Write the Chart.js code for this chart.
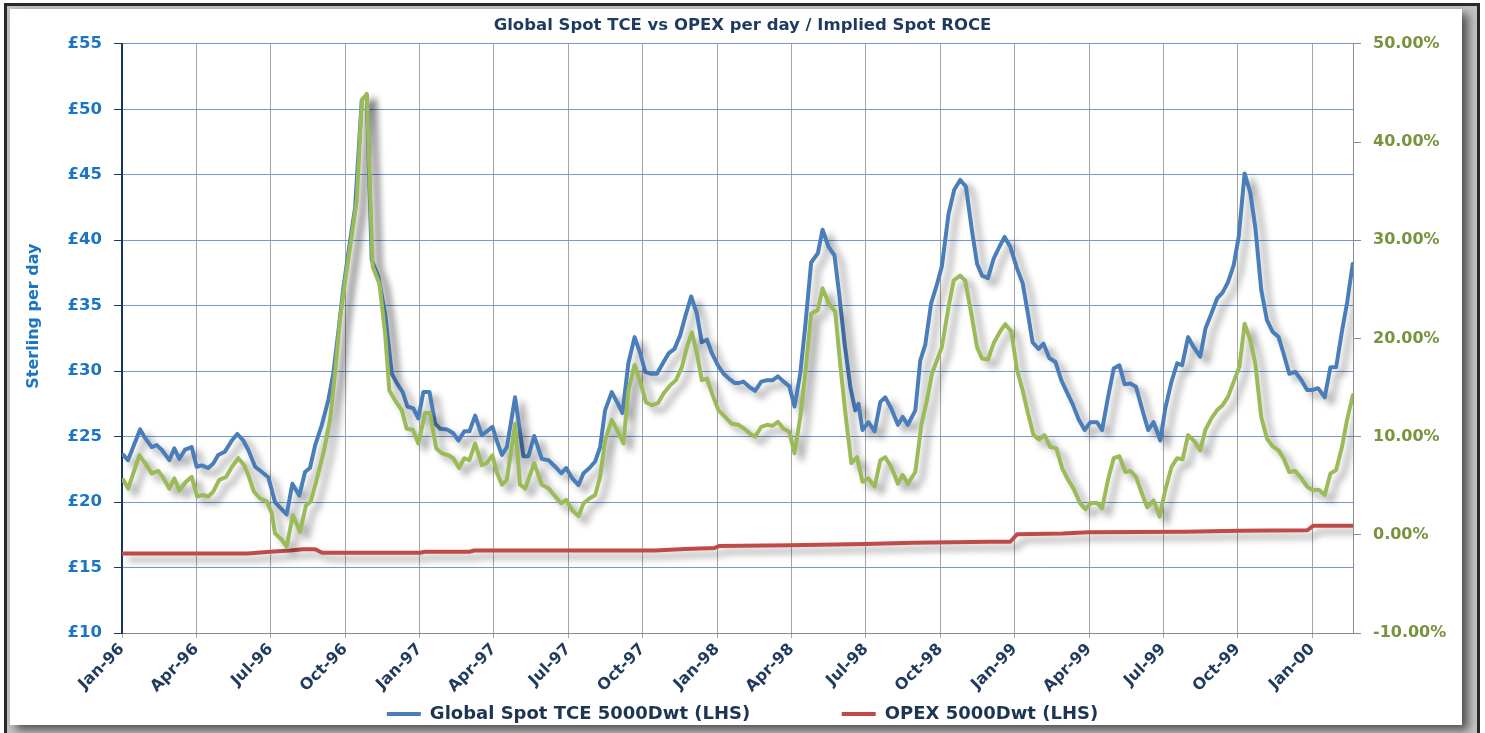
<!DOCTYPE html>
<html>
<head>
<meta charset="utf-8">
<title>Global Spot TCE vs OPEX per day / Implied Spot ROCE</title>
<script src="https://cdn.jsdelivr.net/npm/chart.js@4.4.1/dist/chart.umd.min.js"></script>
<style>
html, body { margin: 0; padding: 0; background: #fff; }
#wrap { position: relative; width: 1485px; height: 733px; overflow: hidden; }
#frame { position: absolute; left: 4px; top: 3px; width: 1476px; height: 745px; border: 3px solid #2a2a2a; box-sizing: border-box; background: #c4c4c4; }
#panel { position: absolute; left: 10px; top: 9px; width: 1452px; height: 716px; background: #fff; box-shadow: 6px 5px 9px rgba(0,0,0,0.6); }
#chart { position: absolute; left: 0; top: 0; }
</style>
</head>
<body>
<div id="wrap">
  <div id="frame"></div>
  <div id="panel"></div>
  <canvas id="chart" width="1485" height="733"></canvas>
</div>
<script>
const FONT = '"DejaVu Sans", Verdana, sans-serif';

// x = months since Jan-96
const quarterLabels = ['Jan-96','Apr-96','Jul-96','Oct-96','Jan-97','Apr-97','Jul-97','Oct-97',
    'Jan-98','Apr-98','Jul-98','Oct-98','Jan-99','Apr-99','Jul-99','Oct-99','Jan-00'];

// Global Spot TCE 5000Dwt, £ per day (LHS)
const tce = [
    [0.05,23.6],[0.24,23.2],[0.73,25.55],[0.93,24.9],[1.20,24.2],[1.40,24.35],[1.60,24.0],[1.91,23.2],
    [2.11,24.1],[2.31,23.3],[2.54,24.0],[2.81,24.2],[3.01,22.7],[3.22,22.8],[3.48,22.6],[3.68,22.95],
    [3.88,23.6],[4.15,23.85],[4.43,24.7],[4.65,25.2],[4.89,24.7],[5.09,24.0],[5.37,22.7],[5.64,22.3],
    [5.90,21.9],[6.17,20.0],[6.37,19.6],[6.64,19.05],[6.87,21.4],[7.15,20.5],[7.38,22.3],[7.58,22.6],
    [7.79,24.35],[8.06,25.9],[8.32,27.8],[8.52,29.8],[8.73,33.1],[8.93,36.4],[9.20,40.0],[9.40,42.5],
    [9.67,50.7],[9.87,51.1],[10.07,38.5],[10.34,37.2],[10.61,34.4],[10.88,29.8],[11.08,29.1],[11.32,28.4],
    [11.51,27.3],[11.75,27.15],[11.95,26.4],[12.15,28.4],[12.40,28.4],[12.63,26.0],[12.83,25.6],[13.10,25.55],
    [13.36,25.25],[13.57,24.7],[13.80,25.4],[14.01,25.4],[14.24,26.6],[14.51,25.1],[14.71,25.4],[14.94,25.75],
    [15.11,24.7],[15.32,23.6],[15.52,24.2],[15.85,28.0],[16.19,23.5],[16.39,23.5],[16.62,25.05],[16.93,23.3],
    [17.20,23.2],[17.47,22.7],[17.71,22.2],[17.91,22.6],[18.16,21.8],[18.41,21.3],[18.61,22.2],[18.85,22.6],
    [19.08,23.1],[19.28,24.2],[19.48,27.0],[19.75,28.4],[20.00,27.5],[20.18,26.8],[20.42,30.6],[20.67,32.6],
    [20.90,31.35],[21.10,29.95],[21.34,29.8],[21.57,29.8],[21.84,30.7],[22.04,31.35],[22.28,31.7],[22.51,32.75],
    [22.71,34.15],[22.95,35.7],[23.18,34.4],[23.38,32.2],[23.59,32.4],[23.79,31.35],[24.03,30.45],[24.26,29.8],
    [24.46,29.45],[24.70,29.1],[24.89,29.1],[25.06,29.2],[25.29,28.8],[25.53,28.5],[25.78,29.2],[26.01,29.3],
    [26.23,29.3],[26.45,29.6],[26.68,29.2],[26.91,28.85],[27.12,27.3],[27.35,29.8],[27.55,33.4],[27.79,38.3],
    [28.06,39.0],[28.25,40.8],[28.49,39.5],[28.73,38.85],[28.92,35.9],[29.14,32.1],[29.37,28.8],[29.57,27.0],
    [29.70,27.5],[29.86,25.5],[30.10,26.1],[30.35,25.4],[30.58,27.65],[30.78,28.0],[31.02,27.15],[31.29,25.9],
    [31.48,26.5],[31.69,25.9],[31.99,27.0],[32.19,30.8],[32.39,32.0],[32.63,35.2],[32.86,36.6],[33.06,38.0],
    [33.33,42.0],[33.56,43.85],[33.80,44.6],[34.03,44.1],[34.27,40.8],[34.48,38.2],[34.68,37.3],[34.92,37.1],
    [35.15,38.6],[35.38,39.5],[35.59,40.25],[35.82,39.5],[36.09,37.85],[36.32,36.7],[36.53,34.4],[36.72,32.2],
    [36.96,31.7],[37.16,32.1],[37.39,31.0],[37.64,30.7],[37.88,29.3],[38.15,28.2],[38.33,27.5],[38.58,26.3],
    [38.82,25.5],[39.05,26.1],[39.32,26.1],[39.52,25.5],[39.76,28.0],[39.99,30.2],[40.22,30.45],[40.43,29.0],
    [40.66,29.05],[40.89,28.8],[41.13,27.15],[41.38,25.5],[41.60,26.1],[41.87,24.7],[42.07,27.15],[42.32,29.2],
    [42.55,30.6],[42.75,30.45],[42.99,32.6],[43.21,31.85],[43.48,31.1],[43.69,33.25],[43.93,34.4],[44.16,35.55],
    [44.38,36.0],[44.60,36.8],[44.83,38.1],[45.03,40.25],[45.27,45.1],[45.50,43.6],[45.70,41.0],[45.94,36.2],
    [46.17,33.9],[46.40,33.0],[46.64,32.6],[46.84,31.35],[47.07,29.8],[47.31,29.95],[47.56,29.3],[47.79,28.55],
    [47.99,28.55],[48.23,28.7],[48.50,28.0],[48.73,30.3],[48.96,30.3],[49.20,33.1],[49.40,35.2],[49.63,38.2]
];

// OPEX 5000Dwt, £ per day (LHS)
const opex = [
    [0.04,16.08],[5.08,16.08],[5.97,16.2],[6.78,16.3],[7.30,16.4],[7.79,16.4],[8.07,16.13],[12.02,16.13],
    [12.22,16.2],[14.0,16.2],[14.2,16.3],[21.5,16.3],[22.7,16.42],[23.9,16.5],[24.1,16.65],[26.95,16.7],
    [29.97,16.8],[31.91,16.9],[35.01,16.97],[35.82,16.97],[36.10,17.55],[37.92,17.6],[38.97,17.7],[42.88,17.73],
    [45.02,17.8],[47.8,17.85],[48.04,18.2],[49.64,18.2]
];

// Implied Spot ROCE, % (RHS)
const roce = [
    [0.05,5.6],[0.25,4.7],[0.70,8.1],[0.93,7.3],[1.20,6.25],[1.46,6.5],[1.64,5.9],[1.91,4.7],
    [2.11,5.75],[2.31,4.5],[2.58,5.4],[2.81,5.9],[3.03,3.9],[3.26,4.05],[3.48,3.9],[3.68,4.4],
    [3.92,5.6],[4.20,5.9],[4.43,6.9],[4.69,7.8],[4.92,7.1],[5.09,6.1],[5.32,4.4],[5.57,3.7],
    [5.84,3.4],[6.04,2.2],[6.17,0.15],[6.44,-0.5],[6.64,-1.2],[6.89,2.0],[7.18,0.3],[7.42,3.0],
    [7.61,3.4],[7.85,5.6],[8.12,8.3],[8.39,11.7],[8.59,16.4],[8.79,21.9],[9.00,25.9],[9.20,29.3],
    [9.47,34.1],[9.67,44.25],[9.87,44.9],[10.11,27.3],[10.38,25.6],[10.61,20.5],[10.78,14.7],[11.01,13.7],
    [11.28,12.7],[11.48,10.8],[11.73,10.7],[11.95,9.3],[12.22,12.4],[12.42,12.4],[12.67,8.8],[12.90,8.3],
    [13.16,8.1],[13.36,7.8],[13.59,6.8],[13.80,7.8],[14.01,7.6],[14.24,9.3],[14.51,7.1],[14.71,7.3],
    [14.94,8.1],[15.11,6.4],[15.32,5.1],[15.52,5.6],[15.85,11.3],[16.05,5.1],[16.26,4.7],[16.62,7.3],
    [16.93,5.1],[17.20,4.75],[17.47,3.9],[17.71,3.2],[17.91,3.55],[18.16,2.5],[18.41,1.9],[18.61,3.2],
    [18.85,3.7],[19.08,4.05],[19.28,5.9],[19.48,9.6],[19.75,11.7],[20.00,10.5],[20.22,9.3],[20.42,14.7],
    [20.67,17.3],[20.90,15.6],[21.13,13.5],[21.37,13.2],[21.61,13.4],[21.84,14.4],[22.10,15.2],[22.34,15.75],
    [22.58,17.1],[22.78,19.1],[22.98,20.6],[23.18,18.5],[23.38,15.75],[23.59,15.9],[23.79,14.4],[24.05,12.7],
    [24.32,12.0],[24.59,11.3],[24.86,11.2],[25.10,10.8],[25.33,10.3],[25.53,10.0],[25.78,11.0],[26.01,11.2],
    [26.23,11.1],[26.45,11.5],[26.68,10.8],[26.91,10.5],[27.12,8.3],[27.35,12.0],[27.55,16.4],[27.79,22.5],
    [28.06,22.9],[28.25,25.1],[28.49,23.6],[28.76,22.7],[28.96,17.45],[29.17,12.4],[29.41,7.3],[29.64,7.9],
    [29.86,5.4],[30.10,5.75],[30.35,4.9],[30.58,7.6],[30.78,7.9],[31.02,6.9],[31.29,5.2],[31.48,6.1],
    [31.69,5.2],[31.99,6.4],[32.24,11.3],[32.46,13.7],[32.66,16.4],[33.06,19.1],[33.33,23.2],[33.54,25.9],
    [33.80,26.4],[34.00,25.9],[34.25,22.5],[34.48,19.1],[34.68,17.95],[34.92,17.85],[35.15,19.5],[35.41,20.7],
    [35.62,21.45],[35.86,20.7],[36.09,16.8],[36.32,14.7],[36.53,12.4],[36.76,10.15],[36.99,9.7],[37.20,10.15],
    [37.43,8.95],[37.68,8.8],[37.91,6.8],[38.15,5.6],[38.37,4.7],[38.64,3.2],[38.85,2.6],[39.08,3.25],
    [39.32,3.25],[39.52,2.7],[39.76,5.6],[39.99,7.8],[40.22,8.0],[40.46,6.4],[40.66,6.5],[40.89,5.9],
    [41.13,4.2],[41.34,2.8],[41.60,3.5],[41.84,1.85],[42.07,4.55],[42.32,6.9],[42.55,7.8],[42.77,7.7],
    [42.99,10.15],[43.25,9.5],[43.48,8.6],[43.69,10.7],[43.93,11.85],[44.16,12.7],[44.38,13.2],[44.60,14.05],
    [44.83,15.6],[45.06,17.1],[45.27,21.5],[45.50,19.8],[45.70,17.45],[45.94,12.0],[46.17,9.8],[46.40,9.0],
    [46.64,8.6],[46.84,7.8],[47.07,6.4],[47.31,6.5],[47.56,5.75],[47.79,4.9],[48.01,4.55],[48.26,4.6],
    [48.50,4.05],[48.73,6.25],[48.96,6.6],[49.20,9.0],[49.40,11.7],[49.63,14.2]
];

const toXY = (pts) => pts.map(([x, y]) => ({ x: x, y: y }));

// soft drop shadow under every line, like the original
const lineShadow = {
    id: 'lineShadow',
    beforeDatasetDraw(chart) {
        const ctx = chart.ctx;
        ctx.save();
        ctx.shadowColor = 'rgba(0,0,0,0.38)';
        ctx.shadowBlur = 7;
        ctx.shadowOffsetX = 7;
        ctx.shadowOffsetY = 6;
    },
    afterDatasetDraw(chart) {
        chart.ctx.restore();
    }
};

const ctx = document.getElementById('chart').getContext('2d');

new Chart(ctx, {
    type: 'line',
    data: {
        datasets: [{
            label: 'Global Spot TCE 5000Dwt (LHS)',
            data: toXY(tce),
            borderColor: '#4a7ebb',
            backgroundColor: '#4a7ebb',
            borderWidth: 4,
            yAxisID: 'y',
            order: 1
        },
        {
            label: 'OPEX 5000Dwt (LHS)',
            data: toXY(opex),
            borderColor: '#be4b48',
            backgroundColor: '#be4b48',
            borderWidth: 4,
            yAxisID: 'y',
            order: 2
        },
        {
            label: 'Implied Spot ROCE (RHS)',
            data: toXY(roce),
            borderColor: '#9bbb59',
            backgroundColor: '#9bbb59',
            borderWidth: 4,
            yAxisID: 'y1',
            order: 0
        }]
    },
    options: {
        responsive: false,
        animation: false,
        devicePixelRatio: 1,
        layout: { padding: 0 },
        elements: {
            point: { radius: 0 },
            line: { tension: 0, borderJoinStyle: 'round', borderCapStyle: 'round' }
        },
        plugins: {
            title: {
                display: true,
                text: 'Global Spot TCE vs OPEX per day / Implied Spot ROCE',
                color: '#1f3a5f',
                font: { family: FONT, size: 16.5, weight: 'bold' },
                padding: { top: 16, bottom: 8 }
            },
            legend: {
                position: 'bottom',
                labels: {
                    boxWidth: 34,
                    boxHeight: 4,
                    padding: 10,
                    color: '#1c3553',
                    font: { family: FONT, size: 18, weight: 'bold' },
                    generateLabels(chart) {
                        return Chart.defaults.plugins.legend.labels.generateLabels(chart)
                            .filter(item => item.datasetIndex !== 2)
                            .map(item => {
                                item.lineWidth = 0;
                                if (item.datasetIndex === 0) item.text += ' '.repeat(13);
                                return item;
                            });
                    }
                }
            },
            tooltip: { enabled: false }
        },
        scales: {
            x: {
                type: 'linear',
                min: 0,
                max: 49.64,
                afterBuildTicks(scale) {
                    scale.ticks = quarterLabels.map((_, i) => ({ value: i * 3 }));
                },
                afterFit(scale) { scale.height = 62; },
                ticks: {
                    autoSkip: false,
                    maxRotation: 45,
                    minRotation: 45,
                    padding: 2,
                    color: '#1f3a5f',
                    font: { family: FONT, size: 16, weight: 'bold' },
                    callback: (v) => quarterLabels[Math.round(v / 3)]
                },
                grid: { color: '#a6a6a6', lineWidth: 1, tickLength: 5, tickColor: '#a6a6a6' },
                border: { color: '#8c8c8c', width: 1 }
            },
            y: {
                position: 'left',
                min: 10,
                max: 55,
                afterFit(scale) { scale.width = 122; },
                ticks: {
                    stepSize: 5,
                    padding: 12,
                    color: '#1a75c2',
                    font: { family: FONT, size: 16.5, weight: 'bold' },
                    callback: (v) => '£' + v
                },
                grid: { color: '#7399cf', lineWidth: 1, tickLength: 8, tickColor: '#17375e' },
                border: { color: '#17375e', width: 2 },
                title: {
                    display: true,
                    // leading spaces lift the label a little above the axis centre, as in the original
                    text: '        Sterling per day',
                    color: '#1a75c2',
                    font: { family: FONT, size: 16, weight: 'bold' },
                    padding: { top: 24, bottom: 0 }
                }
            },
            y1: {
                position: 'right',
                min: -10,
                max: 50,
                afterFit(scale) { scale.width = 132; },
                ticks: {
                    stepSize: 10,
                    padding: 12,
                    color: '#77933c',
                    font: { family: FONT, size: 16, weight: 'bold' },
                    callback: (v) => v.toFixed(2) + '%'
                },
                grid: { drawOnChartArea: false, tickLength: 8, tickColor: '#8c8c8c' },
                border: { color: '#8c8c8c', width: 1 }
            }
        }
    },
    plugins: [lineShadow]
});
</script>
</body>
</html>
